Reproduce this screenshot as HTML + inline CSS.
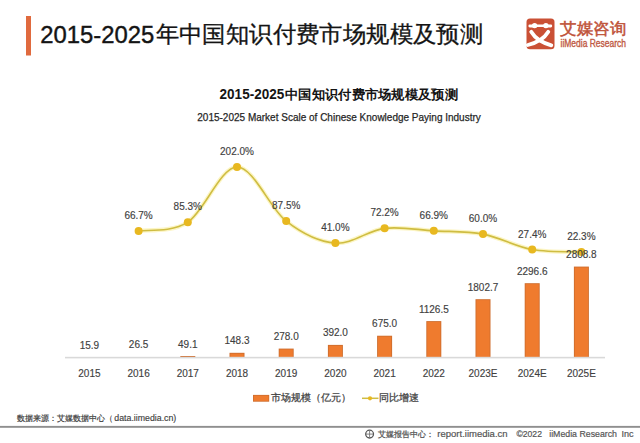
<!DOCTYPE html>
<html><head><meta charset="utf-8">
<style>
html,body{margin:0;padding:0;background:#fff;width:640px;height:443px;overflow:hidden}
svg{display:block}
text{font-family:'Liberation Sans', sans-serif}
.lab{font-size:10px;fill:#3f3f3f;text-anchor:middle;stroke:#3f3f3f;stroke-width:0.15}
</style></head><body>
<svg width="640" height="443" viewBox="0 0 640 443">
<rect x="0" y="0" width="640" height="443" fill="#fff"/>
<!-- title -->
<rect x="26" y="16" width="5" height="39.5" fill="#e06a3e"/>
<text x="40.2" y="42.5" textLength="114" lengthAdjust="spacingAndGlyphs" style="font-size:23.5px;fill:#141414;stroke:#141414;stroke-width:0.4">2015-2025</text>
<text x="155.6" y="41.7" textLength="327.5" lengthAdjust="spacingAndGlyphs" style="font-size:22.6px;fill:#141414;stroke:#141414;stroke-width:0.3">年中国知识付费市场规模及预测</text>
<!-- logo -->
<rect x="526.5" y="18.5" width="28" height="30.8" rx="3.5" fill="#ca5035"/>
<g stroke="#fff" fill="none" stroke-linecap="round">
<path d="M529.8,26 L550.8,26" stroke-width="2.8"/>
<path d="M531.2,31.8 Q537,41.5 551.3,45.3" stroke-width="3.8"/>
<path d="M548.3,31.8 Q542.5,41.5 527.8,45" stroke-width="3.8"/>
</g>
<path d="M536,27 L544.5,27 L540.3,31 Z" fill="#ca5035"/>
<circle cx="534.6" cy="25.6" r="2.7" fill="#fff"/>
<circle cx="545.9" cy="25.6" r="2.7" fill="#fff"/>
<text x="560.2" y="34.2" textLength="65.8" lengthAdjust="spacingAndGlyphs" style="font-size:16px;fill:#bf533a;stroke:#bf533a;stroke-width:0.5">艾媒咨询</text>
<text x="560.5" y="47.3" textLength="65.5" lengthAdjust="spacingAndGlyphs" style="font-size:10px;fill:#bf5a44;stroke:#bf5a44;stroke-width:0.35">iiMedia Research</text>
<!-- chart titles -->
<text x="219.6" y="98.8" textLength="64.6" lengthAdjust="spacingAndGlyphs" style="font-size:13.8px;font-weight:bold;fill:#141414">2015-2025</text>
<text x="285" y="98.8" textLength="173" lengthAdjust="spacingAndGlyphs" style="font-size:13.4px;font-weight:bold;fill:#141414">中国知识付费市场规模及预测</text>
<text x="197.3" y="120.6" textLength="283.5" lengthAdjust="spacingAndGlyphs" style="font-size:10.8px;fill:#262626;stroke:#262626;stroke-width:0.25">2015-2025 Market Scale of Chinese Knowledge Paying Industry</text>
<rect x="180.30" y="356.01" width="15" height="1.59" fill="#cf6e2e"/>
<rect x="229.50" y="352.80" width="15" height="4.80" fill="#cf6e2e"/>
<rect x="230.40" y="353.70" width="13.2" height="3.90" fill="#ef7b2e"/>
<rect x="278.70" y="348.59" width="15" height="9.01" fill="#cf6e2e"/>
<rect x="279.60" y="349.49" width="13.2" height="8.11" fill="#ef7b2e"/>
<rect x="327.90" y="344.90" width="15" height="12.70" fill="#cf6e2e"/>
<rect x="328.80" y="345.80" width="13.2" height="11.80" fill="#ef7b2e"/>
<rect x="377.10" y="335.73" width="15" height="21.87" fill="#cf6e2e"/>
<rect x="378.00" y="336.63" width="13.2" height="20.97" fill="#ef7b2e"/>
<rect x="426.30" y="321.10" width="15" height="36.50" fill="#cf6e2e"/>
<rect x="427.20" y="322.00" width="13.2" height="35.60" fill="#ef7b2e"/>
<rect x="475.50" y="299.19" width="15" height="58.41" fill="#cf6e2e"/>
<rect x="476.40" y="300.09" width="13.2" height="57.51" fill="#ef7b2e"/>
<rect x="524.70" y="283.19" width="15" height="74.41" fill="#cf6e2e"/>
<rect x="525.60" y="284.09" width="13.2" height="73.51" fill="#ef7b2e"/>
<rect x="573.90" y="266.59" width="15" height="91.01" fill="#cf6e2e"/>
<rect x="574.80" y="267.49" width="13.2" height="90.11" fill="#ef7b2e"/>
<rect x="65" y="356.80" width="540" height="1.6" fill="#d9d9d9"/>
<text x="89.40" y="377.3" class="lab">2015</text>
<text x="138.60" y="377.3" class="lab">2016</text>
<text x="187.80" y="377.3" class="lab">2017</text>
<text x="237.00" y="377.3" class="lab">2018</text>
<text x="286.20" y="377.3" class="lab">2019</text>
<text x="335.40" y="377.3" class="lab">2020</text>
<text x="384.60" y="377.3" class="lab">2021</text>
<text x="433.80" y="377.3" class="lab">2022</text>
<text x="483.00" y="377.3" class="lab">2023E</text>
<text x="532.20" y="377.3" class="lab">2024E</text>
<text x="581.40" y="377.3" class="lab">2025E</text>
<path d="M138.60,230.95 C146.80,229.48 171.40,232.82 187.80,222.15 C204.20,211.49 220.60,167.13 237.00,166.95 C253.40,166.78 269.80,208.42 286.20,221.11 C302.60,233.80 319.00,241.90 335.40,243.11 C351.80,244.31 368.20,230.39 384.60,228.35 C401.00,226.31 417.40,229.89 433.80,230.86 C450.20,231.82 466.60,231.01 483.00,234.12 C499.40,237.23 515.80,246.57 532.20,249.54 C548.60,252.51 573.20,251.55 581.40,251.95" fill="none" stroke="#fcf5c4" stroke-width="4.2"/>
<path d="M138.60,230.95 C146.80,229.48 171.40,232.82 187.80,222.15 C204.20,211.49 220.60,167.13 237.00,166.95 C253.40,166.78 269.80,208.42 286.20,221.11 C302.60,233.80 319.00,241.90 335.40,243.11 C351.80,244.31 368.20,230.39 384.60,228.35 C401.00,226.31 417.40,229.89 433.80,230.86 C450.20,231.82 466.60,231.01 483.00,234.12 C499.40,237.23 515.80,246.57 532.20,249.54 C548.60,252.51 573.20,251.55 581.40,251.95" fill="none" stroke="#cfbd42" stroke-width="1.6"/>
<circle cx="138.60" cy="230.95" r="4" fill="#e8b820"/>
<circle cx="187.80" cy="222.15" r="4" fill="#e8b820"/>
<circle cx="237.00" cy="166.95" r="4" fill="#e8b820"/>
<circle cx="286.20" cy="221.11" r="4" fill="#e8b820"/>
<circle cx="335.40" cy="243.11" r="4" fill="#e8b820"/>
<circle cx="384.60" cy="228.35" r="4" fill="#e8b820"/>
<circle cx="433.80" cy="230.86" r="4" fill="#e8b820"/>
<circle cx="483.00" cy="234.12" r="4" fill="#e8b820"/>
<circle cx="532.20" cy="249.54" r="4" fill="#e8b820"/>
<circle cx="581.40" cy="251.95" r="4" fill="#e8b820"/>
<text x="138.60" y="218.95" class="lab">66.7%</text>
<text x="187.80" y="210.15" class="lab">85.3%</text>
<text x="237.00" y="154.95" class="lab">202.0%</text>
<text x="286.20" y="209.11" class="lab">87.5%</text>
<text x="335.40" y="231.11" class="lab">41.0%</text>
<text x="384.60" y="216.35" class="lab">72.2%</text>
<text x="433.80" y="218.86" class="lab">66.9%</text>
<text x="483.00" y="222.12" class="lab">60.0%</text>
<text x="532.20" y="237.54" class="lab">27.4%</text>
<text x="581.40" y="239.95" class="lab">22.3%</text>
<text x="89.40" y="348.58" class="lab">15.9</text>
<text x="138.60" y="348.24" class="lab">26.5</text>
<text x="187.80" y="347.51" class="lab">49.1</text>
<text x="237.00" y="344.30" class="lab">148.3</text>
<text x="286.20" y="340.09" class="lab">278.0</text>
<text x="335.40" y="336.40" class="lab">392.0</text>
<text x="384.60" y="327.23" class="lab">675.0</text>
<text x="433.80" y="312.60" class="lab">1126.5</text>
<text x="483.00" y="290.69" class="lab">1802.7</text>
<text x="532.20" y="274.69" class="lab">2296.6</text>
<text x="581.40" y="258.09" class="lab">2808.8</text>
<!-- legend -->
<rect x="253" y="394.9" width="16.2" height="6.8" fill="#cf6e2e"/>
<rect x="253.8" y="395.7" width="14.6" height="5.2" fill="#ef7b2e"/>
<text x="270.9" y="401.3" style="font-size:9.6px;fill:#3f3f3f;stroke:#3f3f3f;stroke-width:0.25">市场规模（亿元）</text>
<path d="M362,398.3 L378.5,398.3" stroke="#cfbd42" stroke-width="1.5"/>
<circle cx="370" cy="398.3" r="2.1" fill="#e8b820"/>
<text x="379.3" y="401.3" style="font-size:9.6px;fill:#3f3f3f;stroke:#3f3f3f;stroke-width:0.25">同比增速</text>
<!-- footer -->
<text x="16.6" y="421.4" style="font-size:8.2px;fill:#404040;stroke:#404040;stroke-width:0.2">数据来源：艾媒数据中心（</text>
<text x="114.3" y="421" textLength="62" lengthAdjust="spacingAndGlyphs" style="font-size:8.8px;fill:#404040;stroke:#404040;stroke-width:0.15">data.iimedia.cn)</text>
<rect x="0" y="425.9" width="640" height="1.9" fill="#8f8f8f"/>
<circle cx="369.6" cy="434.1" r="3.9" fill="none" stroke="#555" stroke-width="1.3"/>
<path d="M369.6,430.5 L369.6,437.8 M366,434.1 L373.2,434.1" stroke="#777" stroke-width="0.9"/>
<text x="377.6" y="436.9" style="font-size:8.2px;fill:#555;stroke:#555;stroke-width:0.25">艾媒报告中心：</text>
<text x="437.3" y="437" textLength="70.3" lengthAdjust="spacingAndGlyphs" style="font-size:9.5px;fill:#555;stroke:#555;stroke-width:0.2">report.iimedia.cn</text>
<text x="516.4" y="437" textLength="25.6" lengthAdjust="spacingAndGlyphs" style="font-size:9.5px;fill:#555;stroke:#555;stroke-width:0.2">©2022</text>
<text x="549.2" y="437" textLength="67.8" lengthAdjust="spacingAndGlyphs" style="font-size:9.5px;fill:#555;stroke:#555;stroke-width:0.2">iiMedia Research</text>
<text x="621.4" y="437" textLength="12.1" lengthAdjust="spacingAndGlyphs" style="font-size:9.5px;fill:#555;stroke:#555;stroke-width:0.2">Inc</text>
</svg>
</body></html>
